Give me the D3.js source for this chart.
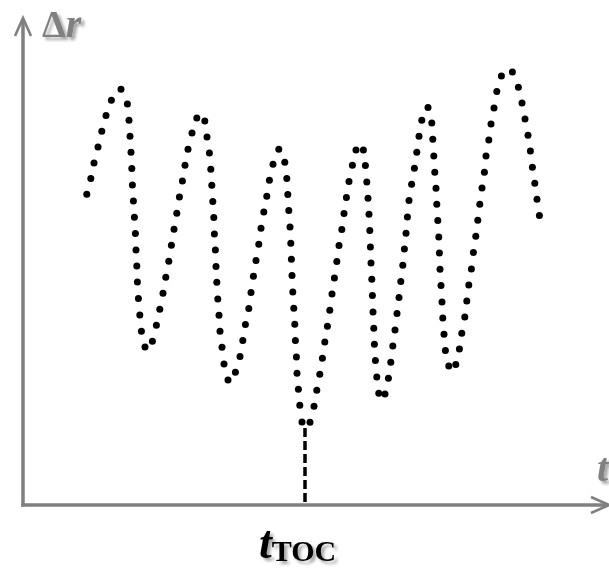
<!DOCTYPE html>
<html>
<head>
<meta charset="utf-8">
<script src="https://cdn.jsdelivr.net/npm/d3@7"></script>
<style>
  html, body { margin: 0; padding: 0; background: #fff; }
  svg { display: block; }
</style>
</head>
<body>
<script>
// Time coordinate of each dot (arbitrary units)
const tValues = [
  32.9, 34.9, 36.5, 38.5, 40.4, 42.5, 45.2, 50.0, 53.2, 54.0, 54.5, 55.0, 55.4, 55.7, 56.2, 56.7,
  57.2, 57.5, 57.9, 58.2, 58.7, 59.4, 60.2, 62.0, 65.7, 67.7, 69.4, 71.0, 72.4, 73.9, 75.2, 76.5,
  77.9, 79.2, 80.7, 82.0, 83.5, 85.5, 87.9, 91.9, 93.0, 94.2, 94.9, 95.4, 95.9, 96.4, 96.7, 97.2,
  97.5, 97.9, 98.4, 99.0, 99.5, 100.5, 101.5, 103.5, 107.2, 109.5, 110.9, 112.2, 113.9, 115.0, 116.2, 117.5,
  118.9, 120.0, 121.4, 122.9, 124.2, 126.0, 128.9, 131.9, 132.9, 133.4, 133.9, 134.5, 134.9, 135.2, 135.5, 135.9,
  136.4, 136.9, 137.2, 137.7, 138.0, 138.7, 139.4, 140.5, 144.5, 146.5, 147.9, 149.4, 150.7, 151.9, 153.2, 154.4,
  155.5, 156.7, 157.9, 159.0, 160.4, 161.5, 162.7, 164.0, 165.7, 167.5, 171.2, 172.2, 172.9, 173.5, 174.0, 174.4,
  174.7, 175.0, 175.4, 175.7, 176.0, 176.4, 176.7, 177.2, 177.9, 178.9, 182.0, 183.7, 184.9, 185.9, 187.0, 188.0,
  189.0, 189.9, 190.9, 191.7, 192.5, 193.2, 194.0, 195.3, 196.7, 197.9, 199.0, 200.4, 203.5, 205.4, 205.9, 206.4,
  206.9, 207.5, 207.9, 208.4, 208.9, 209.2, 209.5, 210.0, 210.5, 210.9, 211.5, 212.2, 213.9, 217.4, 219.2, 220.4,
  221.9, 222.9, 223.9, 225.2, 226.2, 227.4, 228.4, 229.4, 230.5, 231.7, 232.5, 233.9, 235.0, 236.5, 237.9, 240.2,
  245.7, 248.7, 250.5, 252.0, 253.5, 254.7, 255.7, 256.9, 258.0, 259.2
];
// Δr value of each dot (arbitrary units)
const drValues = [
  155.9, 163.7, 171.5, 179.5, 187.4, 195.2, 202.9, 208.4, 201.0, 192.9, 184.9, 176.9, 168.7, 160.5, 152.5, 144.4,
  136.2, 128.0, 120.0, 112.0, 103.7, 95.5, 87.4, 79.5, 82.4, 90.4, 98.4, 106.4, 114.4, 122.4, 130.4, 138.4,
  146.4, 154.5, 162.5, 170.4, 178.4, 186.5, 194.0, 192.5, 184.5, 176.5, 168.4, 160.4, 152.2, 144.2, 136.0, 128.0,
  119.7, 111.9, 103.5, 95.4, 87.4, 79.4, 71.0, 63.0, 66.9, 74.7, 82.7, 90.7, 98.7, 106.7, 114.9, 122.7,
  130.9, 138.9, 147.0, 154.9, 162.9, 170.9, 178.4, 171.9, 163.7, 155.7, 147.7, 139.5, 131.4, 123.4, 115.2, 107.0,
  98.9, 90.9, 82.7, 74.5, 66.4, 58.4, 50.4, 42.0, 41.9, 49.9, 57.9, 65.9, 73.9, 82.0, 89.9, 97.9,
  106.0, 114.0, 122.2, 130.2, 138.2, 146.2, 154.2, 162.2, 170.4, 178.0, 178.0, 170.2, 162.0, 153.9, 145.9, 137.7,
  129.5, 121.5, 113.4, 105.2, 97.0, 88.9, 80.9, 72.7, 64.5, 56.4, 56.0, 63.9, 71.9, 80.0, 88.0, 96.2,
  104.2, 112.2, 120.4, 128.5, 136.4, 144.5, 152.7, 160.9, 168.9, 176.9, 184.9, 192.9, 199.2, 191.5, 183.4, 175.0,
  166.9, 158.9, 150.9, 142.7, 134.5, 126.5, 118.4, 110.2, 102.0, 94.0, 85.9, 77.7, 70.0, 70.7, 78.5, 86.4,
  94.5, 102.5, 110.5, 118.5, 126.7, 134.9, 142.9, 150.9, 159.0, 166.9, 175.0, 183.0, 191.0, 199.0, 207.2, 215.0,
  217.0, 209.4, 201.5, 193.5, 185.4, 177.5, 169.4, 161.4, 153.4, 145.2
];
// Marker for t_TOC: time and height of the dashed line top
const tocTime = [142];
const tocTop = [39];
const axisLabels = ["\u0394", "r", "t"];
const tocLabel = ["t", "TOC"];

const W = 609, H = 579;
const svg = d3.select("body").append("svg").attr("width", W).attr("height", H);

const x = d3.scaleLinear().domain([0, 294]).range([21, 609]);
const y = d3.scaleLinear().domain([0, 244]).range([506, 18]);

const defs = svg.append("defs");
const f = defs.append("filter").attr("id", "shadow").attr("x", "-30%").attr("y", "-30%").attr("width", "160%").attr("height", "160%");
f.append("feGaussianBlur").attr("in", "SourceAlpha").attr("stdDeviation", 1.6).attr("result", "b");
f.append("feOffset").attr("in", "b").attr("dx", 2.5).attr("dy", 2.5).attr("result", "o");
f.append("feComponentTransfer").attr("in", "o").attr("result", "s")
  .append("feFuncA").attr("type", "linear").attr("slope", 0.35);
const m = f.append("feMerge");
m.append("feMergeNode").attr("in", "s");
m.append("feMergeNode").attr("in", "SourceGraphic");

const gray = "#808080";
const ox = 23, oy = 505;

// Axes
svg.append("line").attr("x1", ox).attr("y1", oy + 1.5).attr("x2", ox).attr("y2", 19)
  .attr("stroke", gray).attr("stroke-width", 3.5);
svg.append("line").attr("x1", ox - 2).attr("y1", oy).attr("x2", 607).attr("y2", oy)
  .attr("stroke", gray).attr("stroke-width", 3.5);
// arrowheads
svg.append("path").attr("d", `M${ox - 8},36 L${ox},18 L${ox + 8},36`)
  .attr("fill", "none").attr("stroke", gray).attr("stroke-width", 2.6).attr("stroke-linejoin", "miter");
svg.append("path").attr("d", `M591,497 L609,${oy} L591,513`)
  .attr("fill", "none").attr("stroke", gray).attr("stroke-width", 2.6).attr("stroke-linejoin", "miter");

// Dashed t_TOC marker
svg.append("line")
  .attr("x1", x(tocTime[0])).attr("x2", x(tocTime[0]))
  .attr("y1", y(tocTop[0])).attr("y2", oy - 1.5)
  .attr("stroke", "#000").attr("stroke-width", 3.5).attr("stroke-dasharray", "9,4");

// Dots
const pts = tValues.map((t, i) => ({ t, dr: drValues[i] }));
svg.append("g").selectAll("circle").data(pts).join("circle")
  .attr("cx", d => x(d.t)).attr("cy", d => y(d.dr)).attr("r", 3.5).attr("fill", "#000");

// Labels
const serif = "'Liberation Serif', 'Times New Roman', serif";
const lab = svg.append("text").attr("x", 42).attr("y", 37).attr("font-family", serif)
  .attr("font-weight", "bold").attr("font-size", 38).attr("fill", gray).attr("filter", "url(#shadow)");
lab.append("tspan").text(axisLabels[0]);
lab.append("tspan").attr("font-style", "italic").attr("font-size", 40).text(axisLabels[1]);

svg.append("text").attr("x", 597).attr("y", 481).attr("font-family", serif)
  .attr("font-weight", "bold").attr("font-style", "italic").attr("font-size", 40)
  .attr("fill", gray).attr("filter", "url(#shadow)").text(axisLabels[2]);

const tl = svg.append("text").attr("x", 259).attr("y", 558).attr("font-family", serif)
  .attr("font-weight", "bold").attr("fill", "#000").attr("filter", "url(#shadow)");
tl.append("tspan").attr("font-style", "italic").attr("font-size", 46).text(tocLabel[0]);
tl.append("tspan").attr("font-size", 30).attr("dy", 3).text(tocLabel[1]);
</script>
</body>
</html>
